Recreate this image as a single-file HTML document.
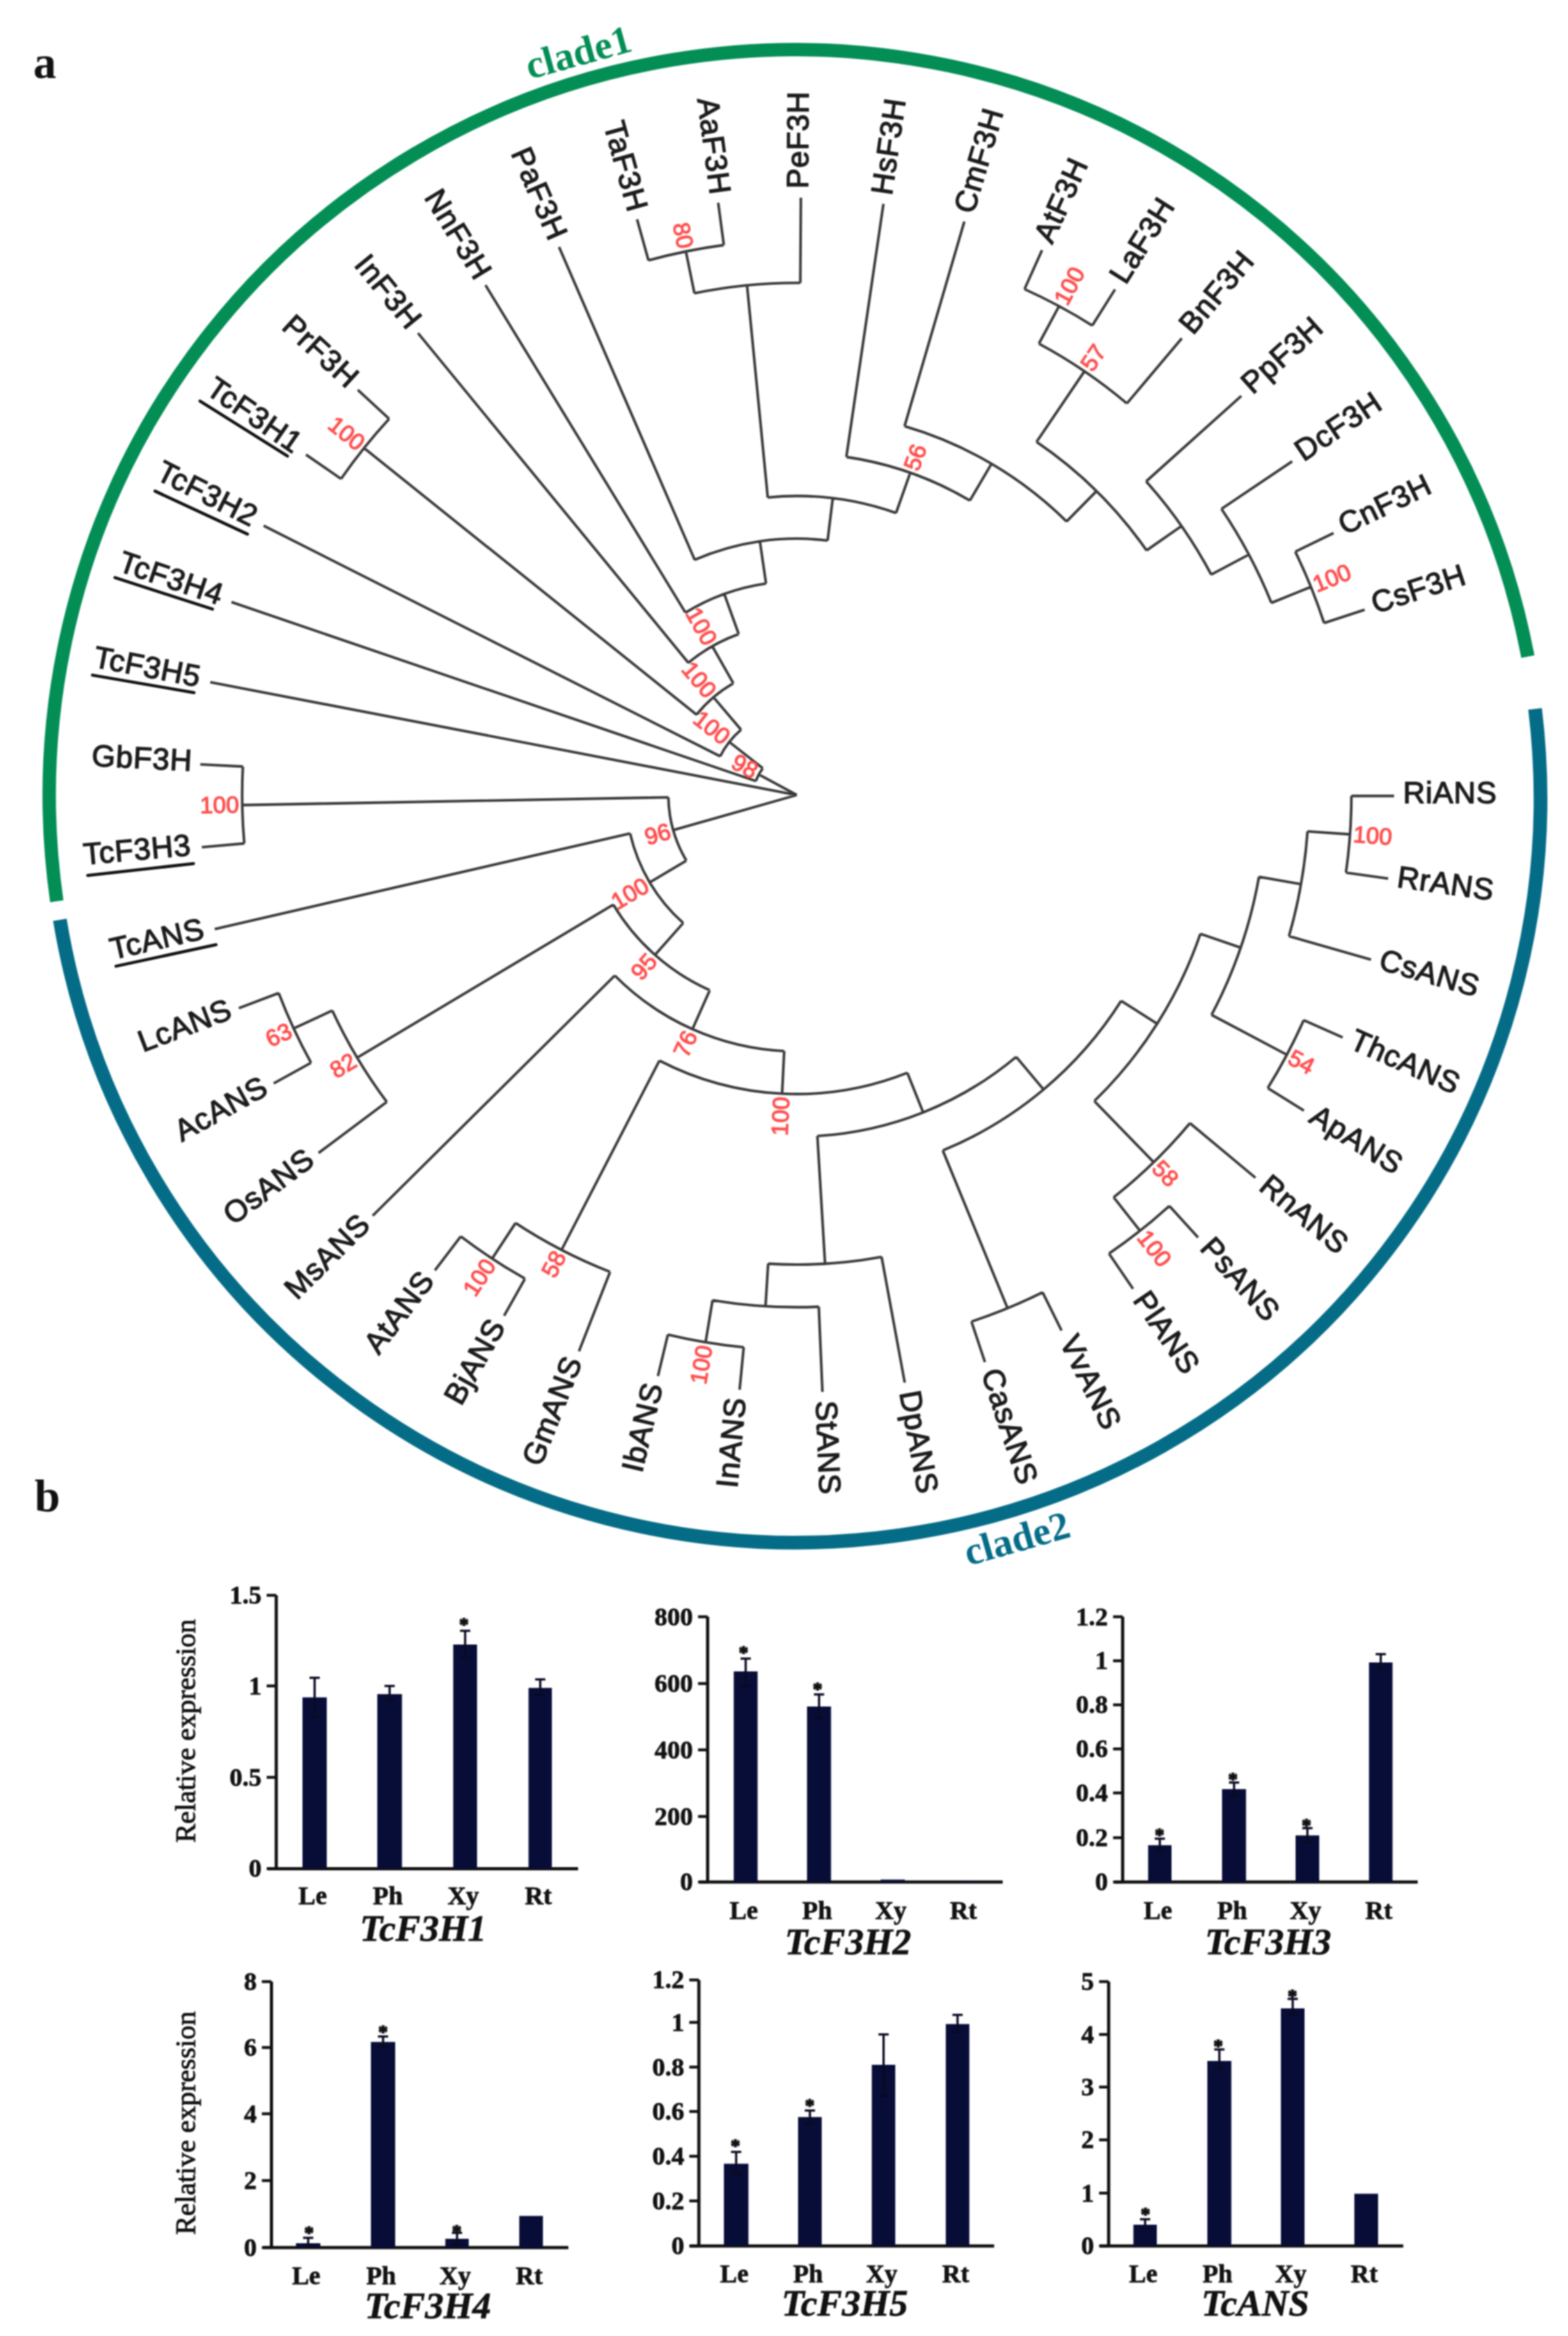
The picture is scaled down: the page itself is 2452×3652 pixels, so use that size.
<!DOCTYPE html>
<html><head><meta charset="utf-8"><title>Figure</title>
<style>
html,body{margin:0;padding:0;background:#fff}
svg{display:block;filter:blur(1.1px)}
.lf{letter-spacing:0.9px;font-family:"Liberation Sans",Arial,sans-serif;font-size:47.5px;fill:#1c1c1c;stroke:#1c1c1c;stroke-width:1.5}
.bs{font-family:"Liberation Sans",Arial,sans-serif;font-size:36.5px;fill:#ff4f4f;stroke:#ff4f4f;stroke-width:1.3}
.cl{font-family:"Liberation Serif","Times New Roman",serif;font-weight:bold;font-size:62px}
.pl{font-family:"Liberation Serif","Times New Roman",serif;font-weight:bold;font-size:72px;fill:#111}
.tk,.xl{font-family:"Liberation Serif","Times New Roman",serif;font-weight:bold;font-size:40px;fill:#111;stroke:#111;stroke-width:0.8}
.tt{font-family:"Liberation Serif","Times New Roman",serif;font-weight:bold;font-style:italic;font-size:58px;fill:#111;stroke:#111;stroke-width:0.8}
.yl{font-family:"Liberation Serif","Times New Roman",serif;font-size:44.5px;fill:#111;stroke:#111;stroke-width:1}
.st{font-family:"Liberation Serif","Times New Roman",serif;font-weight:bold;font-size:30px;fill:#111;stroke:#111;stroke-width:1.5}
</style></head><body>
<svg width="2452" height="3652" viewBox="0 0 2452 3652">
<rect width="2452" height="3652" fill="#fff"/>
<path d="M1246.0 1242.9L1052.8 1297.8M1073.3 1345.4A200.8 200.8 0 0 1 1045.2 1246.5M1073.3 1345.4L1016.0 1379.4M1068.4 1443.0A267.5 267.5 0 0 1 985.3 1302.9M1068.4 1443.0L1024.2 1492.8M1109.9 1548.1A334.1 334.1 0 0 1 959.1 1414.2M1109.9 1548.1L1082.8 1609.0M1226.3 1643.2A400.8 400.8 0 0 1 961.4 1525.1M1226.3 1643.2L1223.0 1709.8M1418.9 1677.2A467.4 467.4 0 0 1 1031.2 1658.1M1418.9 1677.2L1443.6 1739.1M1589.1 1652.2A534.1 534.1 0 0 1 1278.2 1776.0M1589.1 1652.2L1631.9 1703.3M1753.3 1564.7A600.8 600.8 0 0 1 1474.3 1798.6M1753.3 1564.7L1809.6 1600.4M1877.1 1459.9A667.4 667.4 0 0 1 1711.3 1721.4M1877.1 1459.9L1940.2 1481.5M1968.8 1370.7A734.0 734.0 0 0 1 1894.6 1586.6M1968.8 1370.7L2034.5 1382.3M2044.7 1299.7A800.7 800.7 0 0 1 2015.7 1463.5M2044.7 1299.7L2111.2 1304.4M2113.3 1244.3A867.4 867.4 0 0 1 2104.8 1364.2M2113.3 1244.3L2180.0 1244.4M2104.8 1364.2L2170.8 1373.5M2015.7 1463.5L2143.9 1500.2M1894.6 1586.6L2012.4 1649.0M2038.7 1594.9A867.4 867.4 0 0 1 1982.4 1701.1M2038.7 1594.9L2099.6 1621.9M1982.4 1701.1L2039.0 1736.3M1711.3 1721.4L1804.2 1817.0M1860.8 1755.9A800.7 800.7 0 0 1 1741.5 1871.8M1860.8 1755.9L1963.2 1841.3M1741.5 1871.8L1782.8 1924.2M1828.7 1885.3A867.4 867.4 0 0 1 1734.3 1959.8M1828.7 1885.3L1873.5 1934.7M1734.3 1959.8L1771.8 2014.8M1474.3 1798.6L1575.6 2045.2M1630.4 2020.4A867.4 867.4 0 0 1 1519.2 2066.1M1630.4 2020.4L1660.0 2080.1M1519.2 2066.1L1540.2 2129.4M1278.2 1776.0L1290.2 1975.6M1378.6 1964.9A734.0 734.0 0 0 1 1201.2 1975.6M1378.6 1964.9L1414.8 2161.5M1201.2 1975.6L1197.1 2042.1M1280.4 2042.9A800.7 800.7 0 0 1 1114.3 2032.7M1280.4 2042.9L1286.1 2176.0M1114.3 2032.7L1103.4 2098.4M1163.0 2106.3A867.4 867.4 0 0 1 1044.4 2086.5M1163.0 2106.3L1156.6 2172.6M1044.4 2086.5L1028.9 2151.3M1031.2 1658.1L878.1 1954.1M954.0 1988.4A800.7 800.7 0 0 1 806.2 1912.0M954.0 1988.4L905.4 2112.6M806.2 1912.0L769.6 1967.7M821.0 1999.0A867.4 867.4 0 0 1 720.5 1932.9M821.0 1999.0L788.3 2057.1M720.5 1932.9L680.1 1986.0M961.4 1525.1L582.8 1900.6M959.1 1414.2L558.6 1653.5M604.9 1722.7A800.7 800.7 0 0 1 519.6 1579.8M604.9 1722.7L498.2 1802.5M519.6 1579.8L459.2 1607.9M486.4 1661.5A867.4 867.4 0 0 1 435.8 1552.5M486.4 1661.5L428.0 1693.7M435.8 1552.5L373.5 1576.2M985.3 1302.9L335.8 1452.4M1045.2 1246.5L378.8 1258.6M382.0 1318.6A867.4 867.4 0 0 1 379.8 1198.4M382.0 1318.6L315.6 1324.5M379.8 1198.4L313.2 1195.0M1246.0 1242.9L328.8 1066.4M1246.0 1242.9L1186.6 1210.7M1182.1 1221.1A67.5 67.5 0 0 1 1192.9 1201.2M1182.1 1221.1L362.0 941.3M1192.9 1201.2L1140.5 1160.0M1126.2 1182.4A134.2 134.2 0 0 1 1158.9 1140.8M1126.2 1182.4L412.3 821.9M1158.9 1140.8L1115.7 1090.0M1089.3 1117.3A200.8 200.8 0 0 1 1146.8 1068.3M1089.3 1117.3L569.2 700.4M533.3 748.6A867.4 867.4 0 0 1 608.5 654.8M533.3 748.6L478.5 710.7M608.5 654.8L559.5 609.6M1146.8 1068.3L1113.9 1010.3M1076.4 1036.1A267.5 267.5 0 0 1 1155.2 991.3M1076.4 1036.1L653.7 520.8M1155.2 991.3L1132.6 928.6M1071.9 957.7A334.1 334.1 0 0 1 1197.9 912.2M1071.9 957.7L759.2 445.8M1197.9 912.2L1188.3 846.3M1086.4 875.2A400.8 400.8 0 0 1 1294.2 845.0M1086.4 875.2L874.2 386.1M1294.2 845.0L1302.3 778.8M1200.6 777.7A467.4 467.4 0 0 1 1401.2 802.0M1200.6 777.7L1168.2 446.0M1085.9 458.4A800.7 800.7 0 0 1 1251.5 442.2M1085.9 458.4L1072.6 393.1M1014.1 407.1A867.4 867.4 0 0 1 1131.9 383.1M1014.1 407.1L996.2 342.9M1131.9 383.1L1123.1 317.0M1251.5 442.2L1252.4 308.9M1401.2 802.0L1423.4 739.1M1323.5 714.4A534.1 534.1 0 0 1 1516.7 782.5M1323.5 714.4L1381.5 318.8M1516.7 782.5L1550.5 725.0M1414.5 666.3A600.8 600.8 0 0 1 1667.9 815.2M1414.5 666.3L1508.0 346.4M1667.9 815.2L1714.7 767.8M1620.9 690.8A667.4 667.4 0 0 1 1793.0 860.5M1620.9 690.8L1695.8 580.5M1624.6 537.3A800.7 800.7 0 0 1 1762.2 630.8M1624.6 537.3L1656.1 478.6M1602.1 452.0A867.4 867.4 0 0 1 1708.1 508.9M1602.1 452.0L1629.5 391.2M1708.1 508.9L1743.6 452.5M1762.2 630.8L1848.1 528.9M1793.0 860.5L1847.6 822.4M1792.3 752.6A734.0 734.0 0 0 1 1894.1 898.3M1792.3 752.6L1941.1 619.0M1894.1 898.3L1953.0 867.0M1910.1 795.6A800.7 800.7 0 0 1 1988.2 942.5M1910.1 795.6L2020.7 721.2M1988.2 942.5L2050.0 917.5M2025.5 862.5A867.4 867.4 0 0 1 2070.6 974.0M2025.5 862.5L2085.4 833.3M2070.6 974.0L2134.0 953.3" fill="none" stroke="#3a3a3a" stroke-width="4.1" stroke-linejoin="miter" stroke-linecap="butt"/>
<text transform="translate(1246.0,1242.9) rotate(0.09)" x="948.0" y="11" class="lf">RiANS</text>
<text transform="translate(1246.0,1242.9) rotate(8.04)" x="948.0" y="11" class="lf">RrANS</text>
<text transform="translate(1246.0,1242.9) rotate(15.99)" x="948.0" y="11" class="lf">CsANS</text>
<text transform="translate(1246.0,1242.9) rotate(23.94)" x="948.0" y="11" class="lf">ThcANS</text>
<text transform="translate(1246.0,1242.9) rotate(31.89)" x="948.0" y="11" class="lf">ApANS</text>
<text transform="translate(1246.0,1242.9) rotate(39.84)" x="948.0" y="11" class="lf">RnANS</text>
<text transform="translate(1246.0,1242.9) rotate(47.79)" x="948.0" y="11" class="lf">PsANS</text>
<text transform="translate(1246.0,1242.9) rotate(55.74)" x="948.0" y="11" class="lf">PlANS</text>
<text transform="translate(1246.0,1242.9) rotate(63.69)" x="948.0" y="11" class="lf">VvANS</text>
<text transform="translate(1246.0,1242.9) rotate(71.64)" x="948.0" y="11" class="lf">CasANS</text>
<text transform="translate(1246.0,1242.9) rotate(79.59)" x="948.0" y="11" class="lf">DpANS</text>
<text transform="translate(1246.0,1242.9) rotate(87.54)" x="948.0" y="11" class="lf">StANS</text>
<text transform="translate(1246.0,1242.9) rotate(275.49)" x="-946.5" y="11" text-anchor="end" class="lf">InANS</text>
<text transform="translate(1246.0,1242.9) rotate(283.44)" x="-946.5" y="11" text-anchor="end" class="lf">IbANS</text>
<text transform="translate(1246.0,1242.9) rotate(291.39)" x="-946.5" y="11" text-anchor="end" class="lf">GmANS</text>
<text transform="translate(1246.0,1242.9) rotate(299.34)" x="-946.5" y="11" text-anchor="end" class="lf">BjANS</text>
<text transform="translate(1246.0,1242.9) rotate(307.29)" x="-946.5" y="11" text-anchor="end" class="lf">AtANS</text>
<text transform="translate(1246.0,1242.9) rotate(315.24)" x="-946.5" y="11" text-anchor="end" class="lf">MsANS</text>
<text transform="translate(1246.0,1242.9) rotate(323.19)" x="-946.5" y="11" text-anchor="end" class="lf">OsANS</text>
<text transform="translate(1246.0,1242.9) rotate(331.14)" x="-946.5" y="11" text-anchor="end" class="lf">AcANS</text>
<text transform="translate(1246.0,1242.9) rotate(339.09)" x="-946.5" y="11" text-anchor="end" class="lf">LcANS</text>
<text transform="translate(1246.0,1242.9) rotate(347.04)" x="-950.5" y="11" text-anchor="end" class="lf">TcANS</text>
<text transform="translate(1246.0,1242.9) rotate(354.99)" x="-950.5" y="11" text-anchor="end" class="lf">TcF3H3</text>
<text transform="translate(1246.0,1242.9) rotate(362.94)" x="-946.5" y="11" text-anchor="end" class="lf">GbF3H</text>
<text transform="translate(1246.0,1242.9) rotate(370.89)" x="-950.5" y="11" text-anchor="end" class="lf">TcF3H5</text>
<text transform="translate(1246.0,1242.9) rotate(378.84)" x="-950.5" y="11" text-anchor="end" class="lf">TcF3H4</text>
<text transform="translate(1246.0,1242.9) rotate(386.79)" x="-950.5" y="11" text-anchor="end" class="lf">TcF3H2</text>
<text transform="translate(1246.0,1242.9) rotate(394.74)" x="-950.5" y="11" text-anchor="end" class="lf">TcF3H1</text>
<text transform="translate(1246.0,1242.9) rotate(402.69)" x="-946.5" y="11" text-anchor="end" class="lf">PrF3H</text>
<text transform="translate(1246.0,1242.9) rotate(410.64)" x="-946.5" y="11" text-anchor="end" class="lf">InF3H</text>
<text transform="translate(1246.0,1242.9) rotate(418.59)" x="-946.5" y="11" text-anchor="end" class="lf">NnF3H</text>
<text transform="translate(1246.0,1242.9) rotate(426.54)" x="-946.5" y="11" text-anchor="end" class="lf">PaF3H</text>
<text transform="translate(1246.0,1242.9) rotate(434.49)" x="-946.5" y="11" text-anchor="end" class="lf">TaF3H</text>
<text transform="translate(1246.0,1242.9) rotate(442.44)" x="-946.5" y="11" text-anchor="end" class="lf">AaF3H</text>
<text transform="translate(1246.0,1242.9) rotate(270.39)" x="948.0" y="11" class="lf">PeF3H</text>
<text transform="translate(1246.0,1242.9) rotate(278.34)" x="948.0" y="11" class="lf">HsF3H</text>
<text transform="translate(1246.0,1242.9) rotate(286.29)" x="948.0" y="11" class="lf">CmF3H</text>
<text transform="translate(1246.0,1242.9) rotate(294.24)" x="948.0" y="11" class="lf">AtF3H</text>
<text transform="translate(1246.0,1242.9) rotate(302.19)" x="948.0" y="11" class="lf">LaF3H</text>
<text transform="translate(1246.0,1242.9) rotate(310.14)" x="948.0" y="11" class="lf">BnF3H</text>
<text transform="translate(1246.0,1242.9) rotate(318.09)" x="948.0" y="11" class="lf">PpF3H</text>
<text transform="translate(1246.0,1242.9) rotate(326.04)" x="948.0" y="11" class="lf">DcF3H</text>
<text transform="translate(1246.0,1242.9) rotate(333.99)" x="948.0" y="11" class="lf">CnF3H</text>
<text transform="translate(1246.0,1242.9) rotate(341.94)" x="948.0" y="11" class="lf">CsF3H</text>
<text transform="translate(1246.0,1242.9) rotate(344.14)" x="-205.8" y="11.8" text-anchor="end" class="bs">96</text>
<text transform="translate(1246.0,1242.9) rotate(329.32)" x="-272.5" y="11.8" text-anchor="end" class="bs">100</text>
<text transform="translate(1246.0,1242.9) rotate(311.59)" x="-339.1" y="11.8" text-anchor="end" class="bs">95</text>
<text transform="translate(1246.0,1242.9) rotate(294.03)" x="-405.8" y="11.8" text-anchor="end" class="bs">76</text>
<text transform="translate(1246.0,1242.9) rotate(272.82)" x="-472.4" y="11.8" text-anchor="end" class="bs">100</text>
<text transform="translate(1246.0,1242.9) rotate(4.07)" x="872.4" y="11.8" class="bs">100</text>
<text transform="translate(1246.0,1242.9) rotate(27.91)" x="872.4" y="11.8" class="bs">54</text>
<text transform="translate(1246.0,1242.9) rotate(45.80)" x="805.7" y="11.8" class="bs">58</text>
<text transform="translate(1246.0,1242.9) rotate(51.77)" x="872.4" y="11.8" class="bs">100</text>
<text transform="translate(1246.0,1242.9) rotate(279.47)" x="-872.4" y="11.8" text-anchor="end" class="bs">100</text>
<text transform="translate(1246.0,1242.9) rotate(297.35)" x="-805.7" y="11.8" text-anchor="end" class="bs">58</text>
<text transform="translate(1246.0,1242.9) rotate(303.31)" x="-872.4" y="11.8" text-anchor="end" class="bs">100</text>
<text transform="translate(1246.0,1242.9) rotate(329.15)" x="-805.7" y="11.8" text-anchor="end" class="bs">82</text>
<text transform="translate(1246.0,1242.9) rotate(335.12)" x="-872.4" y="11.8" text-anchor="end" class="bs">63</text>
<text transform="translate(1246.0,1242.9) rotate(358.97)" x="-872.4" y="11.8" text-anchor="end" class="bs">100</text>
<text transform="translate(1246.0,1242.9) rotate(388.51)" x="-72.5" y="11.8" text-anchor="end" class="bs">98</text>
<text transform="translate(1246.0,1242.9) rotate(398.17)" x="-139.2" y="11.8" text-anchor="end" class="bs">100</text>
<text transform="translate(1246.0,1242.9) rotate(409.56)" x="-205.8" y="11.8" text-anchor="end" class="bs">100</text>
<text transform="translate(1246.0,1242.9) rotate(398.72)" x="-872.4" y="11.8" text-anchor="end" class="bs">100</text>
<text transform="translate(1246.0,1242.9) rotate(420.40)" x="-272.5" y="11.8" text-anchor="end" class="bs">100</text>
<text transform="translate(1246.0,1242.9) rotate(438.47)" x="-872.4" y="11.8" text-anchor="end" class="bs">80</text>
<text transform="translate(1246.0,1242.9) rotate(289.40)" x="539.1" y="11.8" class="bs">56</text>
<text transform="translate(1246.0,1242.9) rotate(304.18)" x="805.7" y="11.8" class="bs">57</text>
<text transform="translate(1246.0,1242.9) rotate(298.22)" x="872.4" y="11.8" class="bs">100</text>
<text transform="translate(1246.0,1242.9) rotate(337.97)" x="872.4" y="11.8" class="bs">100</text>
<line x1="312.7" y1="627" x2="449.6" y2="713" stroke="#111" stroke-width="4.8" stroke-linecap="round"/>
<line x1="242.4" y1="767.8" x2="387" y2="835" stroke="#111" stroke-width="4.8" stroke-linecap="round"/>
<line x1="179.8" y1="903" x2="332.3" y2="952.3" stroke="#111" stroke-width="4.8" stroke-linecap="round"/>
<line x1="144.6" y1="1055.5" x2="303.4" y2="1082.9" stroke="#111" stroke-width="4.8" stroke-linecap="round"/>
<line x1="137.1" y1="1368.6" x2="302.6" y2="1350.1" stroke="#111" stroke-width="4.8" stroke-linecap="round"/>
<line x1="181.4" y1="1510.5" x2="337.8" y2="1476.9" stroke="#111" stroke-width="4.8" stroke-linecap="round"/>
<path d="M88.8 1409.1A1166.3 1166.3 0 0 1 2389.2 1026.5" fill="none" stroke="#038e55" stroke-width="21"/>
<path d="M2400.5 1108.2A1165.5 1163.7 0 0 1 93.6 1438.1" fill="none" stroke="#056c87" stroke-width="21.5"/>
<text transform="translate(828.5,124) rotate(-15.4)" class="cl" fill="#038e55">clade1</text>
<text transform="translate(1514.5,2448) rotate(-15.8)" class="cl" fill="#056c87">clade2</text>
<text x="52" y="122" class="pl">a</text>
<text x="54" y="2363" class="pl">b</text>
<path d="M432 2494V2921.4M419 2921.4H904" stroke="#111" stroke-width="5" fill="none"/>
<path d="M417 2494H432" stroke="#111" stroke-width="4.5"/>
<text x="409" y="2507" text-anchor="end" class="tk">1.5</text>
<path d="M417 2635.7H432" stroke="#111" stroke-width="4.5"/>
<text x="409" y="2648.7" text-anchor="end" class="tk">1</text>
<path d="M417 2778.6H432" stroke="#111" stroke-width="4.5"/>
<text x="409" y="2791.6" text-anchor="end" class="tk">0.5</text>
<path d="M417 2921.4H432" stroke="#111" stroke-width="4.5"/>
<text x="409" y="2934.4" text-anchor="end" class="tk">0</text>
<rect x="473" y="2653.6" width="38.0" height="267.8" fill="#080d38"/>
<text x="489.0" y="2977" text-anchor="middle" class="xl">Le</text>
<path d="M492.0 2623V2684M484.0 2623h16M484.0 2684h16" stroke="#0a0a22" stroke-width="3.5" fill="none"/>
<rect x="590" y="2648.5" width="38.6" height="272.9" fill="#080d38"/>
<text x="606.3" y="2977" text-anchor="middle" class="xl">Ph</text>
<path d="M609.3 2635.7V2657.7M601.3 2635.7h16M601.3 2657.7h16" stroke="#0a0a22" stroke-width="3.5" fill="none"/>
<rect x="708.7" y="2571" width="37.3" height="350.4" fill="#080d38"/>
<text x="724.4" y="2977" text-anchor="middle" class="xl">Xy</text>
<path d="M727.4 2549.5V2591.3M719.4 2549.5h16M719.4 2591.3h16" stroke="#0a0a22" stroke-width="3.5" fill="none"/>
<text x="725.5" y="2548.7" text-anchor="middle" class="st">*</text>
<rect x="826.5" y="2638.8" width="36.5" height="282.6" fill="#080d38"/>
<text x="841.8" y="2977" text-anchor="middle" class="xl">Rt</text>
<path d="M844.8 2625.5V2650M836.8 2625.5h16M836.8 2650h16" stroke="#0a0a22" stroke-width="3.5" fill="none"/>
<text x="661.7" y="3034" text-anchor="middle" class="tt">TcF3H1</text>
<text transform="translate(305,2706) rotate(-90)" text-anchor="middle" class="yl">Relative expression</text>
<path d="M1106.6 2527.6V2942.3M1094 2942.3H1568" stroke="#111" stroke-width="5" fill="none"/>
<path d="M1091.6 2527.6H1106.6" stroke="#111" stroke-width="4.5"/>
<text x="1083.6" y="2540.6" text-anchor="end" class="tk">800</text>
<path d="M1091.6 2632H1106.6" stroke="#111" stroke-width="4.5"/>
<text x="1083.6" y="2645" text-anchor="end" class="tk">600</text>
<path d="M1091.6 2735.7H1106.6" stroke="#111" stroke-width="4.5"/>
<text x="1083.6" y="2748.7" text-anchor="end" class="tk">400</text>
<path d="M1091.6 2839.8H1106.6" stroke="#111" stroke-width="4.5"/>
<text x="1083.6" y="2852.8" text-anchor="end" class="tk">200</text>
<path d="M1091.6 2942.3H1106.6" stroke="#111" stroke-width="4.5"/>
<text x="1083.6" y="2955.3" text-anchor="end" class="tk">0</text>
<rect x="1147.4" y="2613" width="37.3" height="329.3" fill="#080d38"/>
<text x="1163.1" y="3000" text-anchor="middle" class="xl">Le</text>
<path d="M1166.1 2592.9V2635.7M1158.1 2592.9h16M1158.1 2635.7h16" stroke="#0a0a22" stroke-width="3.5" fill="none"/>
<text x="1162.8" y="2593.1" text-anchor="middle" class="st">*</text>
<rect x="1262" y="2667.9" width="37.5" height="274.4" fill="#080d38"/>
<text x="1277.8" y="3000" text-anchor="middle" class="xl">Ph</text>
<path d="M1280.8 2649V2685.7M1272.8 2649h16M1272.8 2685.7h16" stroke="#0a0a22" stroke-width="3.5" fill="none"/>
<text x="1278.6" y="2650.2" text-anchor="middle" class="st">*</text>
<rect x="1377" y="2938.5" width="38.0" height="3.8" fill="#080d38"/>
<text x="1393.0" y="3000" text-anchor="middle" class="xl">Xy</text>
<rect x="1497" y="2940.5" width="25.0" height="1.8" fill="#080d38"/>
<text x="1506.5" y="3000" text-anchor="middle" class="xl">Rt</text>
<text x="1326" y="3055" text-anchor="middle" class="tt">TcF3H2</text>
<path d="M1755.6 2527.6V2942.3M1743 2942.3H2217" stroke="#111" stroke-width="5" fill="none"/>
<path d="M1740.6 2527.6H1755.6" stroke="#111" stroke-width="4.5"/>
<text x="1732.6" y="2540.6" text-anchor="end" class="tk">1.2</text>
<path d="M1740.6 2596.4H1755.6" stroke="#111" stroke-width="4.5"/>
<text x="1732.6" y="2609.4" text-anchor="end" class="tk">1</text>
<path d="M1740.6 2665.3H1755.6" stroke="#111" stroke-width="4.5"/>
<text x="1732.6" y="2678.3" text-anchor="end" class="tk">0.8</text>
<path d="M1740.6 2734.2H1755.6" stroke="#111" stroke-width="4.5"/>
<text x="1732.6" y="2747.2" text-anchor="end" class="tk">0.6</text>
<path d="M1740.6 2803H1755.6" stroke="#111" stroke-width="4.5"/>
<text x="1732.6" y="2816" text-anchor="end" class="tk">0.4</text>
<path d="M1740.6 2873H1755.6" stroke="#111" stroke-width="4.5"/>
<text x="1732.6" y="2886" text-anchor="end" class="tk">0.2</text>
<path d="M1740.6 2942.3H1755.6" stroke="#111" stroke-width="4.5"/>
<text x="1732.6" y="2955.3" text-anchor="end" class="tk">0</text>
<rect x="1795.4" y="2884.7" width="36.6" height="57.6" fill="#080d38"/>
<text x="1810.7" y="3000" text-anchor="middle" class="xl">Le</text>
<path d="M1813.7 2874.5V2894M1805.7 2874.5h16M1805.7 2894h16" stroke="#0a0a22" stroke-width="3.5" fill="none"/>
<text x="1813.3" y="2877.8" text-anchor="middle" class="st">*</text>
<rect x="1911" y="2797" width="37.5" height="145.3" fill="#080d38"/>
<text x="1926.8" y="3000" text-anchor="middle" class="xl">Ph</text>
<path d="M1929.8 2786.7V2807M1921.8 2786.7h16M1921.8 2807h16" stroke="#0a0a22" stroke-width="3.5" fill="none"/>
<text x="1928.1" y="2791.0" text-anchor="middle" class="st">*</text>
<rect x="2026" y="2869.4" width="37.0" height="72.9" fill="#080d38"/>
<text x="2041.5" y="3000" text-anchor="middle" class="xl">Xy</text>
<path d="M2044.5 2858V2879.6M2036.5 2858h16M2036.5 2879.6h16" stroke="#0a0a22" stroke-width="3.5" fill="none"/>
<text x="2042.9" y="2862.5" text-anchor="middle" class="st">*</text>
<rect x="2140.8" y="2599" width="36.8" height="343.3" fill="#080d38"/>
<text x="2156.2" y="3000" text-anchor="middle" class="xl">Rt</text>
<path d="M2159.2 2586V2608M2151.2 2586h16M2151.2 2608h16" stroke="#0a0a22" stroke-width="3.5" fill="none"/>
<text x="1983" y="3055" text-anchor="middle" class="tt">TcF3H3</text>
<path d="M424.5 3098V3513.8M411.7 3513.8H888.8" stroke="#111" stroke-width="5" fill="none"/>
<path d="M409.5 3098H424.5" stroke="#111" stroke-width="4.5"/>
<text x="401.5" y="3111" text-anchor="end" class="tk">8</text>
<path d="M409.5 3201H424.5" stroke="#111" stroke-width="4.5"/>
<text x="401.5" y="3214" text-anchor="end" class="tk">6</text>
<path d="M409.5 3304.6H424.5" stroke="#111" stroke-width="4.5"/>
<text x="401.5" y="3317.6" text-anchor="end" class="tk">4</text>
<path d="M409.5 3409H424.5" stroke="#111" stroke-width="4.5"/>
<text x="401.5" y="3422" text-anchor="end" class="tk">2</text>
<path d="M409.5 3513.8H424.5" stroke="#111" stroke-width="4.5"/>
<text x="401.5" y="3526.8" text-anchor="end" class="tk">0</text>
<rect x="462.8" y="3507" width="38.2" height="6.8" fill="#080d38"/>
<text x="478.9" y="3571" text-anchor="middle" class="xl">Le</text>
<path d="M481.9 3498.5V3511M473.9 3498.5h16M473.9 3511h16" stroke="#0a0a22" stroke-width="3.5" fill="none"/>
<text x="483.2" y="3500.2" text-anchor="middle" class="st">*</text>
<rect x="580" y="3192.3" width="38.0" height="321.5" fill="#080d38"/>
<text x="596.0" y="3571" text-anchor="middle" class="xl">Ph</text>
<path d="M599.0 3183.7V3200M591.0 3183.7h16M591.0 3200h16" stroke="#0a0a22" stroke-width="3.5" fill="none"/>
<text x="599.0" y="3186.4" text-anchor="middle" class="st">*</text>
<rect x="696.4" y="3500" width="36.6" height="13.8" fill="#080d38"/>
<text x="711.7" y="3571" text-anchor="middle" class="xl">Xy</text>
<path d="M714.7 3490.8V3508.7M706.7 3490.8h16M706.7 3508.7h16" stroke="#0a0a22" stroke-width="3.5" fill="none"/>
<text x="714.3" y="3497.7" text-anchor="middle" class="st">*</text>
<rect x="812" y="3464.3" width="37.0" height="49.5" fill="#080d38"/>
<text x="827.5" y="3571" text-anchor="middle" class="xl">Rt</text>
<text x="669" y="3624.4" text-anchor="middle" class="tt">TcF3H4</text>
<text transform="translate(305,3319) rotate(-90)" text-anchor="middle" class="yl">Relative expression</text>
<path d="M1092.9 3095.4V3511.2M1078.6 3511.2H1554.6" stroke="#111" stroke-width="5" fill="none"/>
<path d="M1077.9 3095.4H1092.9" stroke="#111" stroke-width="4.5"/>
<text x="1069.9" y="3108.4" text-anchor="end" class="tk">1.2</text>
<path d="M1077.9 3161.7H1092.9" stroke="#111" stroke-width="4.5"/>
<text x="1069.9" y="3174.7" text-anchor="end" class="tk">1</text>
<path d="M1077.9 3231.6H1092.9" stroke="#111" stroke-width="4.5"/>
<text x="1069.9" y="3244.6" text-anchor="end" class="tk">0.8</text>
<path d="M1077.9 3301H1092.9" stroke="#111" stroke-width="4.5"/>
<text x="1069.9" y="3314" text-anchor="end" class="tk">0.6</text>
<path d="M1077.9 3371H1092.9" stroke="#111" stroke-width="4.5"/>
<text x="1069.9" y="3384" text-anchor="end" class="tk">0.4</text>
<path d="M1077.9 3440.8H1092.9" stroke="#111" stroke-width="4.5"/>
<text x="1069.9" y="3453.8" text-anchor="end" class="tk">0.2</text>
<path d="M1077.9 3511.2H1092.9" stroke="#111" stroke-width="4.5"/>
<text x="1069.9" y="3524.2" text-anchor="end" class="tk">0</text>
<rect x="1132" y="3382.7" width="38.4" height="128.5" fill="#080d38"/>
<text x="1148.2" y="3568" text-anchor="middle" class="xl">Le</text>
<path d="M1151.2 3364.3V3399M1143.2 3364.3h16M1143.2 3399h16" stroke="#0a0a22" stroke-width="3.5" fill="none"/>
<text x="1150.0" y="3363.5" text-anchor="middle" class="st">*</text>
<rect x="1248" y="3309.7" width="37.0" height="201.5" fill="#080d38"/>
<text x="1263.5" y="3568" text-anchor="middle" class="xl">Ph</text>
<path d="M1266.5 3299.5V3320M1258.5 3299.5h16M1258.5 3320h16" stroke="#0a0a22" stroke-width="3.5" fill="none"/>
<text x="1266.3" y="3301.2" text-anchor="middle" class="st">*</text>
<rect x="1363.3" y="3228" width="36.7" height="283.2" fill="#080d38"/>
<text x="1378.7" y="3568" text-anchor="middle" class="xl">Xy</text>
<path d="M1381.7 3180.6V3276.5M1373.7 3180.6h16M1373.7 3276.5h16" stroke="#0a0a22" stroke-width="3.5" fill="none"/>
<rect x="1479" y="3164.3" width="36.8" height="346.9" fill="#080d38"/>
<text x="1494.4" y="3568" text-anchor="middle" class="xl">Rt</text>
<path d="M1497.4 3150V3177M1489.4 3150h16M1489.4 3177h16" stroke="#0a0a22" stroke-width="3.5" fill="none"/>
<text x="1321" y="3620" text-anchor="middle" class="tt">TcF3H5</text>
<path d="M1733.7 3098V3511.2M1720 3511.2H2194.4" stroke="#111" stroke-width="5" fill="none"/>
<path d="M1718.7 3098H1733.7" stroke="#111" stroke-width="4.5"/>
<text x="1710.7" y="3111" text-anchor="end" class="tk">5</text>
<path d="M1718.7 3180.6H1733.7" stroke="#111" stroke-width="4.5"/>
<text x="1710.7" y="3193.6" text-anchor="end" class="tk">4</text>
<path d="M1718.7 3262.8H1733.7" stroke="#111" stroke-width="4.5"/>
<text x="1710.7" y="3275.8" text-anchor="end" class="tk">3</text>
<path d="M1718.7 3345.4H1733.7" stroke="#111" stroke-width="4.5"/>
<text x="1710.7" y="3358.4" text-anchor="end" class="tk">2</text>
<path d="M1718.7 3428.6H1733.7" stroke="#111" stroke-width="4.5"/>
<text x="1710.7" y="3441.6" text-anchor="end" class="tk">1</text>
<path d="M1718.7 3511.2H1733.7" stroke="#111" stroke-width="4.5"/>
<text x="1710.7" y="3524.2" text-anchor="end" class="tk">0</text>
<rect x="1772.4" y="3478" width="36.6" height="33.2" fill="#080d38"/>
<text x="1787.7" y="3568" text-anchor="middle" class="xl">Le</text>
<path d="M1790.7 3469.4V3483M1782.7 3469.4h16M1782.7 3483h16" stroke="#0a0a22" stroke-width="3.5" fill="none"/>
<text x="1791.3" y="3470.6" text-anchor="middle" class="st">*</text>
<rect x="1888" y="3222" width="37.5" height="289.2" fill="#080d38"/>
<text x="1903.8" y="3568" text-anchor="middle" class="xl">Ph</text>
<path d="M1906.8 3204V3233M1898.8 3204h16M1898.8 3233h16" stroke="#0a0a22" stroke-width="3.5" fill="none"/>
<text x="1905.1" y="3208.4" text-anchor="middle" class="st">*</text>
<rect x="2003" y="3139.8" width="37.0" height="371.4" fill="#080d38"/>
<text x="2018.5" y="3568" text-anchor="middle" class="xl">Xy</text>
<path d="M2021.5 3125V3149M2013.5 3125h16M2013.5 3149h16" stroke="#0a0a22" stroke-width="3.5" fill="none"/>
<text x="2020.9" y="3130.3" text-anchor="middle" class="st">*</text>
<rect x="2117.9" y="3429.6" width="37.1" height="81.6" fill="#080d38"/>
<text x="2133.4" y="3568" text-anchor="middle" class="xl">Rt</text>
<text x="1963" y="3620" text-anchor="middle" class="tt">TcANS</text>
</svg>
</body></html>
